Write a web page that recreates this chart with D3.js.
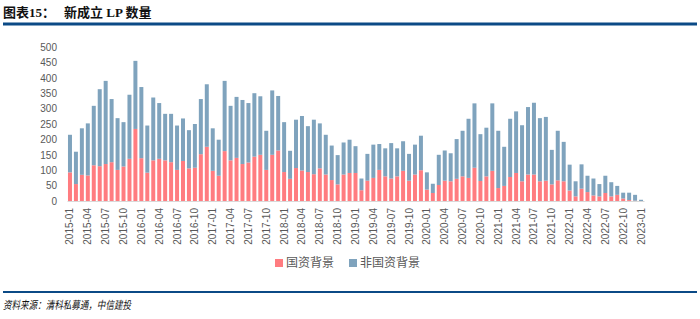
<!DOCTYPE html>
<html>
<head>
<meta charset="utf-8">
<script src="https://cdn.jsdelivr.net/npm/d3@7"></script>
<style>
  body { margin: 0; background: #fff; }
  svg { display: block; }
</style>
</head>
<body>
<div id="chart"></div>
<script>
// monthly data, 2015-01 .. 2023-01
const months = [];
for (let y = 2015; y <= 2023; y++) {
  for (let m = 1; m <= 12; m++) {
    if (y === 2023 && m > 1) break;
    months.push(y + "-" + String(m).padStart(2, "0"));
  }
}

// total new LPs per month
const totalLP = [
  215, 160, 236, 252, 309, 363, 390, 331, 269, 256, 345, 455,
  370, 245, 336, 318, 283, 283, 245, 268, 230, 250, 331, 379,
  236, 199, 390, 309, 338, 328, 318, 350, 340, 228, 359, 341,
  256, 163, 264, 276, 243, 264, 252, 215, 180, 149, 190, 199,
  178, 73, 153, 183, 185, 171, 188, 171, 194, 153, 183, 212,
  93, 56, 150, 164, 155, 201, 228, 267, 317, 217, 238, 317,
  228, 176, 267, 291, 246, 305, 319, 269, 273, 166, 228, 192,
  118, 64, 119, 82, 73, 55, 82, 61, 49, 27, 27, 20,
  4
];

// 国资背景
const stateLP = [
  93, 55, 85, 83, 116, 113, 120, 126, 101, 112, 137, 234,
  139, 92, 132, 137, 132, 126, 101, 130, 106, 108, 152, 176,
  98, 82, 162, 132, 140, 120, 125, 144, 150, 101, 150, 164,
  94, 72, 107, 99, 94, 87, 106, 86, 68, 54, 86, 91,
  91, 35, 66, 75, 101, 80, 73, 80, 98, 66, 86, 100,
  37, 26, 52, 66, 64, 72, 80, 75, 108, 65, 80, 98,
  42, 49, 78, 91, 64, 86, 86, 64, 66, 54, 67, 64,
  34, 15, 40, 29, 18, 15, 26, 15, 20, 8, 3, 1,
  0
];

// 非国资背景
const otherLP = totalLP.map((t, i) => t - stateLP[i]);

const seriesNames = ["国资背景", "非国资背景"];
const yTicks = [0, 50, 100, 150, 200, 250, 300, 350, 400, 450, 500];
const xTickLabels = months.filter((d, i) => i % 3 === 0);

const W = 700, H = 319;
const colors = ["#ff7c80", "#7fa3bd"];
const cjk = "'Noto Sans CJK SC', 'Noto Sans', sans-serif";

const svg = d3.select("#chart").append("svg")
  .attr("width", W).attr("height", H);

// title + rules
const title = svg.append("text")
  .attr("x", 3).attr("y", 17)
  .attr("font-family", "'Liberation Serif', 'Noto Sans CJK SC', serif")
  .attr("font-weight", "bold").attr("font-size", 13)
  .attr("fill", "#111");
title.append("tspan").text("图表15：");
title.append("tspan").attr("dx", 9).text("新成立 LP 数量");

svg.append("rect").attr("x", 3).attr("y", 22.5).attr("width", 694).attr("height", 3).attr("fill", "#0b4a86");
svg.append("rect").attr("x", 3).attr("y", 291).attr("width", 694).attr("height", 2).attr("fill", "#0b4a86");
svg.append("text")
  .attr("x", 3).attr("y", 309)
  .attr("font-family", cjk).attr("font-style", "italic")
  .attr("font-size", 11).attr("fill", "#111")
  .attr("textLength", 128).attr("lengthAdjust", "spacingAndGlyphs")
  .text("资料来源：清科私募通，中信建投");

// scales
const x = d3.scaleBand().domain(months).range([67, 644])
  .paddingInner(0.33).paddingOuter(0.165);
const y = d3.scaleLinear().domain([0, 500]).range([201, 47]);

// y axis
const yAxis = svg.append("g")
  .attr("transform", "translate(60,0)")
  .call(d3.axisLeft(y).tickValues(yTicks).tickSize(0).tickPadding(3));
yAxis.select(".domain").remove();
yAxis.selectAll("text")
  .attr("font-family", "'Liberation Sans', Arial, sans-serif")
  .attr("font-size", 10).attr("fill", "#595959");

// stacked bars
const rows = months.map((m, i) => ({ month: m, s0: stateLP[i], s1: otherLP[i] }));
const stack = d3.stack().keys(["s0", "s1"])(rows);

svg.append("g").selectAll("g")
  .data(stack)
  .join("g")
  .attr("fill", (d, i) => colors[i])
  .selectAll("rect")
  .data(d => d)
  .join("rect")
  .attr("x", d => x(d.data.month))
  .attr("width", x.bandwidth())
  .attr("y", d => y(d[1]))
  .attr("height", d => Math.max(0, y(d[0]) - y(d[1])));

// x axis
const xAxis = svg.append("g")
  .attr("transform", "translate(0,201)")
  .call(d3.axisBottom(x).tickValues(xTickLabels).tickSize(0).tickPadding(0));
xAxis.select(".domain").attr("stroke", "#d9d9d9");
xAxis.selectAll("text")
  .attr("font-family", "'Liberation Sans', Arial, sans-serif")
  .attr("font-size", 10).attr("fill", "#595959")
  .attr("transform", "rotate(-90)")
  .attr("text-anchor", "end")
  .attr("dy", "0.35em")
  .attr("x", -7).attr("y", 0);

// legend
const legend = svg.append("g").attr("transform", "translate(275,263)");
const legendX = [0, 74];
seriesNames.forEach((name, i) => {
  legend.append("rect")
    .attr("x", legendX[i]).attr("y", -4)
    .attr("width", 8).attr("height", 8)
    .attr("fill", colors[i]);
  legend.append("text")
    .attr("x", legendX[i] + 11).attr("y", 0)
    .attr("dy", "0.35em")
    .attr("font-family", cjk).attr("font-size", 12)
    .attr("fill", "#595959")
    .text(name);
});
</script>
</body>
</html>
